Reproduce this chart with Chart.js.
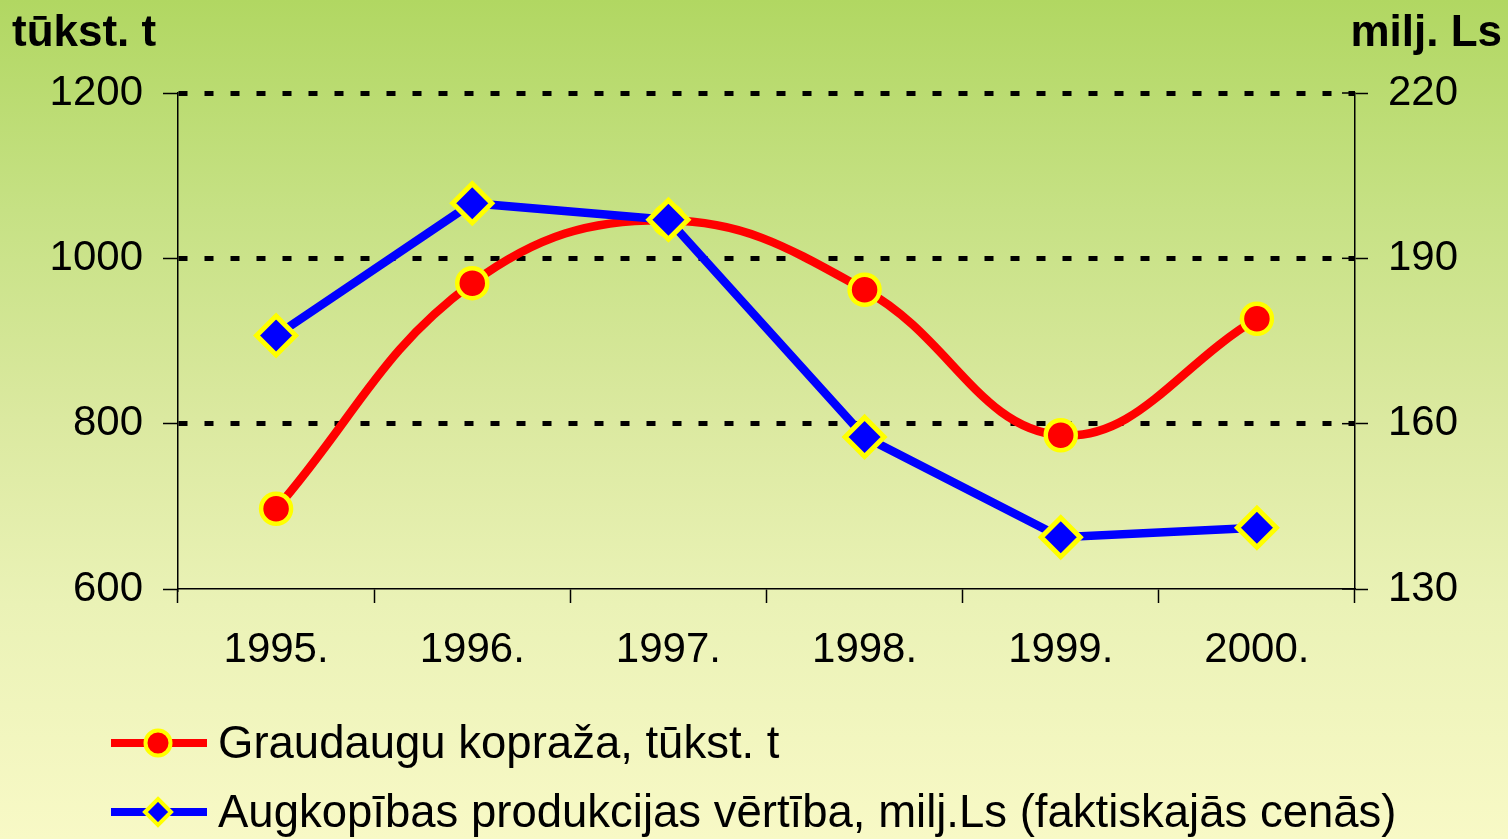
<!DOCTYPE html>
<html>
<head>
<meta charset="utf-8">
<script src="https://cdn.jsdelivr.net/npm/chart.js@4/dist/chart.umd.min.js"></script>
<style>
  html, body { margin: 0; padding: 0; }
  body {
    width: 1508px; height: 839px; overflow: hidden; position: relative;
    background: linear-gradient(to bottom, #b1d762 0%, #c6e184 25%, #dbe9a0 50%, #eaf2b6 72%, #f8f9c6 100%);
    font-family: "Liberation Sans", Arial, sans-serif;
  }
  #wrap { position: absolute; left: 0; top: 0; width: 1508px; height: 839px; }
  .unit { position: absolute; top: 6px; font-weight: bold; font-size: 44px; color: #000; line-height: 50px; }
  #unitL { left: 12px; }
  #unitR { right: 6px; }
  .leg { position: absolute; left: 111px; height: 50px; display: flex; align-items: center; font-size: 45.5px; color: #000; white-space: nowrap; }
  .leg svg { margin-right: 11px; }
</style>
</head>
<body>
<div id="wrap"><canvas id="c" width="1508" height="839"></canvas></div>
<div class="unit" id="unitL">tūkst. t</div>
<div class="unit" id="unitR">milj. Ls</div>
<div class="leg" style="top:718px;">
  <svg width="96" height="40" viewBox="0 0 96 40"><line x1="0" y1="20" x2="96" y2="20" stroke="#ff0000" stroke-width="8"/><circle cx="47" cy="20" r="12.5" fill="#ff0000" stroke="#ffff00" stroke-width="4"/></svg>
  <span id="leg1"></span>
</div>
<div class="leg" style="top:787px;">
  <svg width="96" height="40" viewBox="0 0 96 40"><line x1="0" y1="20" x2="96" y2="20" stroke="#0000ff" stroke-width="8"/><polygon points="47,7 60,20 47,33 34,20" fill="#0000ff" stroke="#ffff00" stroke-width="4"/></svg>
  <span id="leg2"></span>
</div>
<script>
const categories = ["1995.", "1996.", "1997.", "1998.", "1999.", "2000."];
const grainHarvest = [697, 970, 1046, 962, 786, 927];      // tūkst. t (left axis)
const cropValue = [176, 200, 197, 157.6, 139.4, 141.1];     // milj. Ls (right axis)
const leftTicks = [600, 800, 1000, 1200];
const rightTicks = [130, 160, 190, 220];
const seriesNames = ["Graudaugu kopraža, tūkst. t", "Augkopības produkcijas vērtība, milj.Ls (faktiskajās cenās)"];

document.getElementById('leg1').textContent = seriesNames[0];
document.getElementById('leg2').textContent = seriesNames[1];

const tickFont = { family: '"Liberation Sans", Arial, sans-serif', size: 42 };

// small tick marks on the right axis cross the axis line (inner half)
const innerTicks = {
  id: 'innerTicks',
  afterDraw(chart) {
    const s = chart.scales.yR, ctx = chart.ctx;
    ctx.save();
    ctx.strokeStyle = '#000';
    ctx.lineWidth = 1.5;
    s.ticks.forEach(t => {
      const y = s.getPixelForValue(t.value);
      ctx.beginPath();
      ctx.moveTo(s.left - 13, y);
      ctx.lineTo(s.left, y);
      ctx.stroke();
    });
    ctx.restore();
  }
};

new Chart(document.getElementById('c'), {
  type: 'line',
  data: {
    labels: categories,
    datasets: [
      {
        label: seriesNames[0],
        data: grainHarvest,
        yAxisID: 'yL',
        borderColor: '#ff0000',
        borderWidth: 8.5,
        tension: 0.4,
        pointStyle: 'circle',
        pointRadius: 15,
        pointBackgroundColor: '#ff0000',
        pointBorderColor: '#ffff00',
        pointBorderWidth: 4.5,
        order: 1
      },
      {
        label: seriesNames[1],
        data: cropValue,
        yAxisID: 'yR',
        borderColor: '#0000ff',
        borderWidth: 8.5,
        tension: 0,
        pointStyle: 'rectRot',
        pointRadius: 19.5,
        pointBackgroundColor: '#0000ff',
        pointBorderColor: '#ffff00',
        pointBorderWidth: 5,
        order: 0
      }
    ]
  },
  plugins: [innerTicks],
  options: {
    responsive: false,
    animation: false,
    layout: { padding: { top: 93, bottom: 170, left: 0, right: 0 } },
    plugins: { legend: { display: false }, tooltip: { enabled: false } },
    scales: {
      x: {
        type: 'category',
        offset: true,
        border: { display: true, color: '#000', width: 1.5 },
        grid: { display: true, offset: true, drawOnChartArea: false, drawTicks: true, tickLength: 14, tickColor: '#000', tickWidth: 1.5 },
        ticks: { color: '#000', font: tickFont, padding: 22, maxRotation: 0 },
        afterFit: s => { s.height = 80; }
      },
      yL: {
        position: 'left',
        min: 600, max: 1200,
        afterBuildTicks: s => { s.ticks = leftTicks.map(v => ({ value: v })); },
        border: { display: true, color: '#000', width: 1.5, dash: [9, 17], dashOffset: 0 },
        grid: {
          display: true,
          drawOnChartArea: true,
          color: ctx => (ctx.tick && ctx.tick.value === 600) ? 'rgba(0,0,0,0)' : '#000',
          lineWidth: 5,
          drawTicks: true,
          tickLength: 15,
          tickColor: '#000',
          tickWidth: 1.5,
          tickBorderDash: []
        },
        ticks: { color: '#000', font: tickFont, padding: 20, callback: v => String(v) },
        afterFit: s => { s.width = 178; }
      },
      yR: {
        position: 'right',
        min: 130, max: 220,
        afterBuildTicks: s => { s.ticks = rightTicks.map(v => ({ value: v })); },
        border: { display: true, color: '#000', width: 1.5 },
        grid: { display: true, drawOnChartArea: false, drawTicks: true, tickLength: 13, tickColor: '#000', tickWidth: 1.5 },
        ticks: { color: '#000', font: tickFont, padding: 20, callback: v => String(v) },
        afterFit: s => { s.width = 153; }
      }
    }
  }
});
</script>
</body>
</html>
